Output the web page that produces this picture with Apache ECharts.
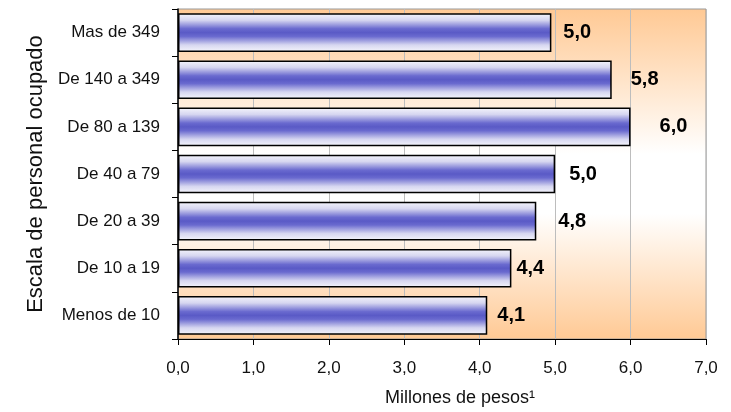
<!DOCTYPE html>
<html>
<head>
<meta charset="utf-8">
<script src="https://cdn.jsdelivr.net/npm/echarts@6/dist/echarts.min.js"></script>
<style>html,body{margin:0;padding:0;background:#fff;}#c{width:731px;height:412px;}</style>
</head>
<body>
<div id="c"></div>
<script>
var categories = ["Menos de 10", "De 10 a 19", "De 20 a 39", "De 40 a 79", "De 80 a 139", "De 140 a 349", "Mas de 349"];
var values = [4.1, 4.42, 4.75, 5.0, 6.0, 5.75, 4.95];
var valueLabels = ["4,1", "4,4", "4,8", "5,0", "6,0", "5,8", "5,0"];
var xTicks = ["0,0", "1,0", "2,0", "3,0", "4,0", "5,0", "6,0", "7,0"];

// label horizontal offsets from bar ends (layout only)
var labelDx = [10, 5, 22, 14, 29, 19, 12];

var font = "Liberation Sans, Arial, sans-serif";
var chart = echarts.init(document.getElementById('c'));
var barFill = new echarts.graphic.LinearGradient(0, 0, 0, 1, [
  {offset: 0, color: '#F6F6FC'},
  {offset: 0.18, color: '#D6D6F0'},
  {offset: 0.4, color: '#6A6ACF'},
  {offset: 0.5, color: '#5A5AC6'},
  {offset: 0.6, color: '#6A6ACF'},
  {offset: 0.82, color: '#D6D6F0'},
  {offset: 1, color: '#F6F6FC'}
]);
chart.setOption({
  animation: false,
  grid: {
    left: 178, right: 25, top: 9, bottom: 69,
    show: true, borderColor: '#999', borderWidth: 1,
    backgroundColor: new echarts.graphic.LinearGradient(0, 0, 0, 1, [
      {offset: 0, color: '#FFC994'},
      {offset: 0.44, color: '#FFFFFF'},
      {offset: 0.62, color: '#FFFFFF'},
      {offset: 1, color: '#FFC994'}
    ])
  },
  xAxis: {
    type: 'value', min: 0, max: 7, interval: 1,
    axisLine: {show: true, lineStyle: {color: '#000', width: 1}},
    axisTick: {show: true, length: 6, lineStyle: {color: '#000'}},
    splitLine: {show: true, lineStyle: {color: '#BDBDBD', width: 1}},
    axisLabel: {
      color: '#111', fontFamily: font, fontSize: 17, margin: 21,
      formatter: function (v) { return xTicks[Math.round(v)]; }
    },
    name: 'Millones de pesos¹', nameLocation: 'middle', nameGap: 50,
    nameTextStyle: {color: '#111', fontFamily: font, fontSize: 18, padding: [0, 0, 0, 36]}
  },
  yAxis: {
    type: 'category', data: categories,
    axisLine: {show: true, lineStyle: {color: '#000', width: 1.5}},
    axisTick: {show: true, length: 6, lineStyle: {color: '#000'}},
    axisLabel: {color: '#111', fontFamily: font, fontSize: 17, margin: 18},
    name: 'Escala de personal ocupado', nameLocation: 'middle', nameGap: 130,
    nameRotate: 90,
    nameTextStyle: {color: '#111', fontFamily: font, fontSize: 22}
  },
  series: [{
    type: 'bar',
    data: values.map(function (v, i) {
      return {value: v, label: {offset: [labelDx[i], 0]}};
    }),
    barCategoryGap: '18%',
    itemStyle: {color: barFill, borderColor: '#000', borderWidth: 1.5},
    label: {
      show: true, position: 'right', distance: 0,
      color: '#000', fontFamily: font, fontSize: 20, fontWeight: 'bold',
      formatter: function (p) { return valueLabels[p.dataIndex]; }
    }
  }]
});
</script>
</body>
</html>
